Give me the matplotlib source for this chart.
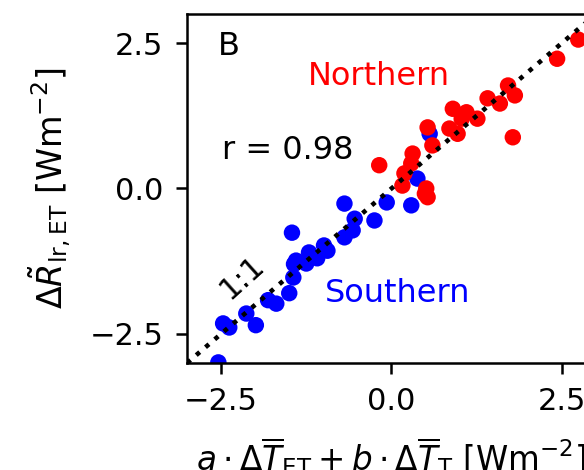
import numpy as np
import matplotlib
matplotlib.use('Agg')
import matplotlib.pyplot as plt

# hemisphere points [Wm-2]
north_x = [2.74, 2.43, 1.71, 1.81, 1.41, 1.59, 1.26, 0.90, 1.10, 1.03, 0.85, 0.97,
           1.78, 0.53, 0.60, -0.18, 0.31, 0.29, 0.19, 0.51, 0.49, 0.16, 0.53]
north_y = [2.56, 2.23, 1.77, 1.60, 1.55, 1.46, 1.20, 1.37, 1.31, 1.20, 1.03, 0.94,
           0.88, 1.05, 0.74, 0.40, 0.60, 0.43, 0.26, 0.00, -0.09, 0.05, -0.15]

south_x = [0.56, 0.38, -0.07, 0.29, -0.25, -0.69, -0.54, -0.57, -0.69, -1.46,
           -0.99, -0.94, -1.21, -1.09, -1.40, -1.25, -1.43, -1.44, -1.50, -1.81,
           -1.69, -2.13, -1.99, -2.47, -2.38, -2.54]
south_y = [0.94, 0.17, -0.24, -0.29, -0.55, -0.26, -0.52, -0.72, -0.84, -0.76,
           -0.98, -1.07, -1.10, -1.20, -1.24, -1.29, -1.30, -1.53, -1.80, -1.92,
           -1.98, -2.15, -2.35, -2.32, -2.39, -2.99]

r_value = 0.98
lims = [-3, 3]

plt.rcParams['font.size'] = 22
fig = plt.figure(figsize=(5.84, 4.70), dpi=100)
# axes runs past the right edge, like the cropped original
ax = fig.add_axes([0.3202, 0.2277, 0.7003, 0.7426])

ax.scatter(south_x, south_y, s=140, color='blue', edgecolors='none', zorder=2)
ax.scatter(north_x, north_y, s=140, color='red', edgecolors='none', zorder=3)
ax.plot(lims, lims, ls=':', color='black', lw=3.3, zorder=4)

ax.set_xlim(lims)
ax.set_ylim(lims)
ax.set_xticks([-2.5, 0.0, 2.5])
ax.set_yticks([-2.5, 0.0, 2.5])
ax.tick_params(length=8, width=1.8, pad=9, labelsize=22)
for sp in ax.spines.values():
    sp.set_linewidth(1.8)

ax.text(0.076, 0.95, 'B', transform=ax.transAxes, ha='left', va='top', fontsize=23)
ax.text(-0.18, 1.92, 'Northern', color='red', ha='center', va='center', fontsize=23)
ax.text(0.09, -1.80, 'Southern', color='blue', ha='center', va='center', fontsize=23)
ax.text(-2.49, 0.66, 'r = %.2f' % r_value, ha='left', va='center', fontsize=23)
ax.text(-2.19, -1.53, '1:1', rotation=42, ha='center', va='center', fontsize=22)

ax.set_xlabel(r'$a\cdot\Delta\overline{T}_{\mathrm{ET}}+b\cdot\Delta\overline{T}_{\mathrm{T}}$ [Wm$^{-2}$]',
              fontsize=23.5, labelpad=14)
ax.set_ylabel(r'$\Delta\tilde{R}_{\mathrm{lr,ET}}$ [Wm$^{-2}$]', fontsize=24, labelpad=11)

fig.savefig('out.png', dpi=100)
